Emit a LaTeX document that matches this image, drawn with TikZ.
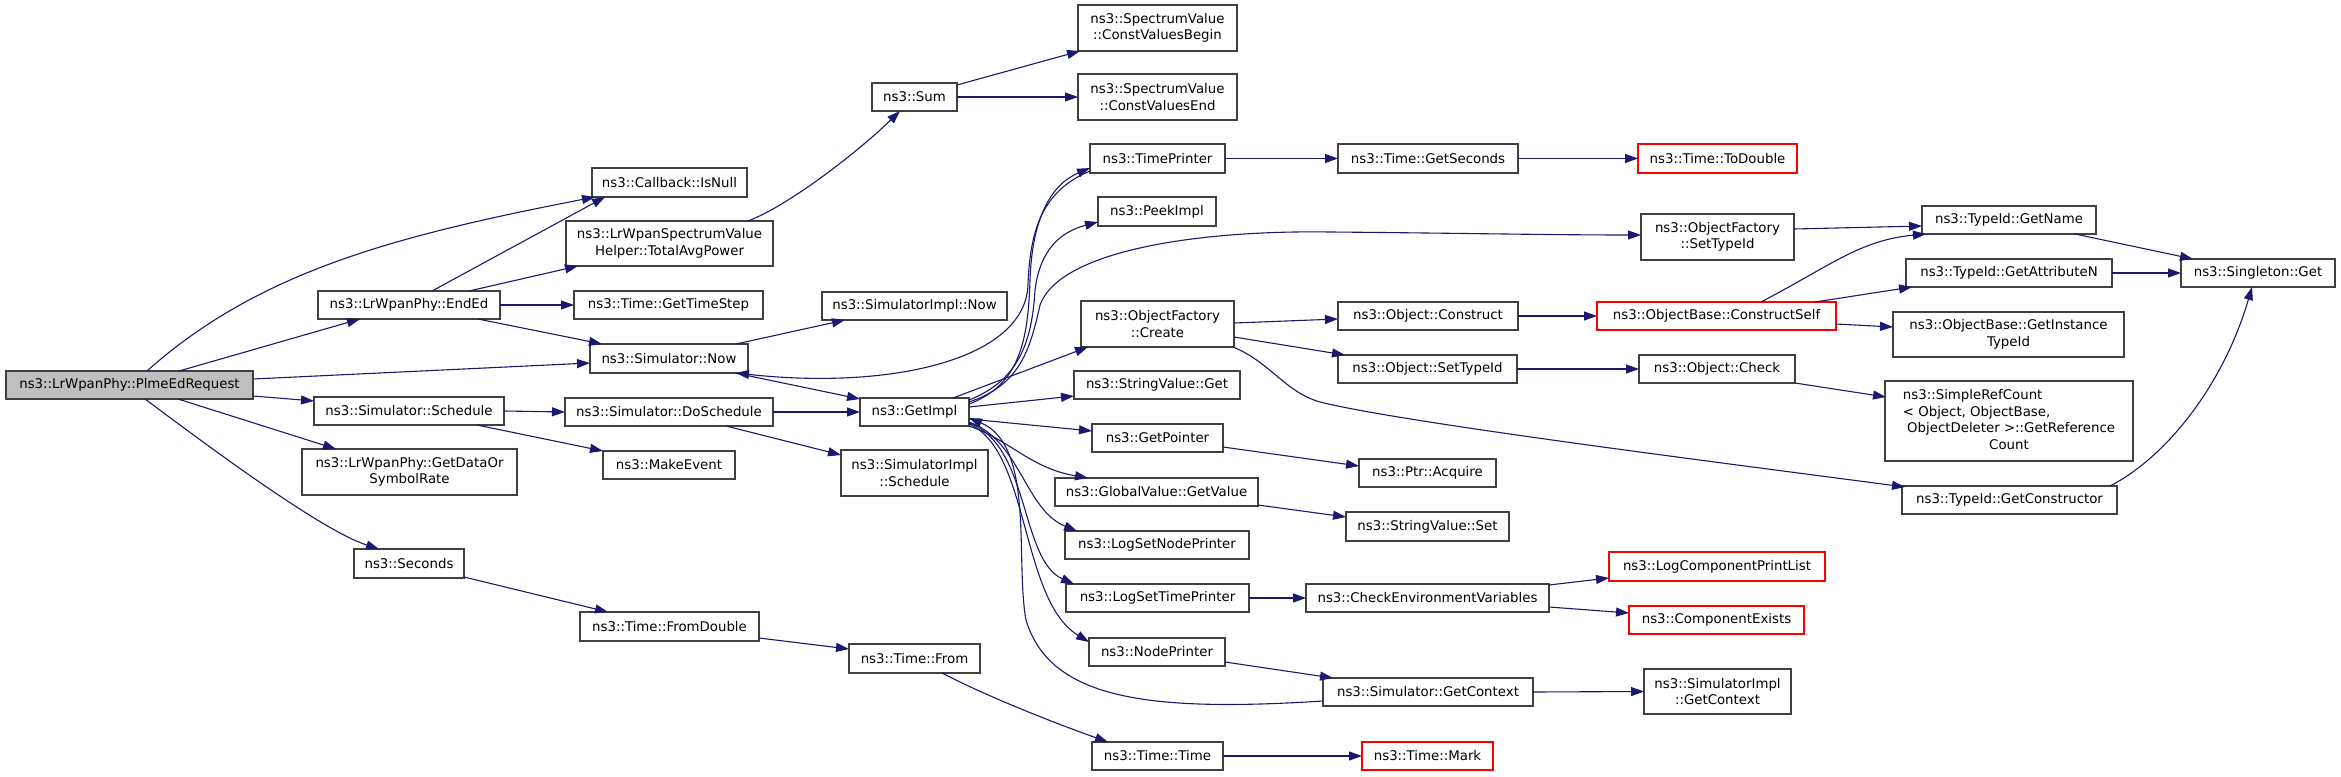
\documentclass[tikz,border=0pt]{standalone}
\usepackage{fontspec}
\usetikzlibrary{arrows.meta,calc}
\newfontfamily\dxfam{DejaVu Sans}
\newcommand{\dxfont}{\dxfam\fontsize{13.33}{16.5}\selectfont}
\definecolor{edgec}{HTML}{191970}
\definecolor{boxc}{HTML}{404040}
\definecolor{rootc}{HTML}{BFBFBF}
\definecolor{redc}{HTML}{FF0000}
\begin{document}
\begin{tikzpicture}[x=1pt,y=-1pt,
  box/.style={draw=boxc, line width=1.2pt, fill=white, inner sep=0pt, outer sep=0pt, anchor=north west, align=center, font=\dxfont},
  redbox/.style={box, draw=redc},
  rootbox/.style={box, fill=rootc},
  call/.style={draw=edgec, line width=1.1pt, -{Triangle[length=13pt,width=9pt]}}]
\fill[white] (0,0) rectangle (2341,776);
\useasboundingbox (0,0) rectangle (2341,776);

% nodes
\node[rootbox, minimum width=247pt, minimum height=28pt] (plme) at (6,371) {ns3::LrWpanPhy::PlmeEdRequest};
\node[box, minimum width=182pt, minimum height=28pt] (ended) at (318,291) {ns3::LrWpanPhy::EndEd};
\node[box, minimum width=155pt, minimum height=29pt] (isnull) at (592,168) {ns3::Callback::IsNull};
\node[box, minimum width=207pt, minimum height=45pt] (tavg) at (566,221) {ns3::LrWpanSpectrumValue\\Helper::TotalAvgPower};
\node[box, minimum width=85pt, minimum height=28pt] (sum) at (872,83) {ns3::Sum};
\node[box, minimum width=159pt, minimum height=46pt] (cvb) at (1078,5) {ns3::SpectrumValue\\::ConstValuesBegin};
\node[box, minimum width=159pt, minimum height=46pt] (cve) at (1078,74) {ns3::SpectrumValue\\::ConstValuesEnd};
\node[box, minimum width=189pt, minimum height=28pt] (gts) at (574,291) {ns3::Time::GetTimeStep};
\node[box, minimum width=158pt, minimum height=29pt] (snow) at (590,344) {ns3::Simulator::Now};
\node[box, minimum width=185pt, minimum height=28pt] (sinow) at (822,292) {ns3::SimulatorImpl::Now};
\node[box, minimum width=190pt, minimum height=28pt] (ssched) at (314,397) {ns3::Simulator::Schedule};
\node[box, minimum width=208pt, minimum height=28pt] (dosched) at (565,398) {ns3::Simulator::DoSchedule};
\node[box, minimum width=109pt, minimum height=28pt] (getimpl) at (860,398) {ns3::GetImpl};
\node[box, minimum width=132pt, minimum height=28pt] (makeev) at (603,451) {ns3::MakeEvent};
\node[box, minimum width=147pt, minimum height=46pt] (sisched) at (841,450) {ns3::SimulatorImpl\\::Schedule};
\node[box, minimum width=215pt, minimum height=46pt] (gdsr) at (302,449) {ns3::LrWpanPhy::GetDataOr\\SymbolRate};
\node[box, minimum width=110pt, minimum height=29pt] (seconds) at (354,549) {ns3::Seconds};
\node[box, minimum width=179pt, minimum height=29pt] (fromdbl) at (580,612) {ns3::Time::FromDouble};
\node[box, minimum width=131pt, minimum height=29pt] (from) at (849,644) {ns3::Time::From};
\node[box, minimum width=131pt, minimum height=28pt] (ttime) at (1092,742) {ns3::Time::Time};
\node[redbox, minimum width=131pt, minimum height=28pt] (mark) at (1362,742) {ns3::Time::Mark};
\node[box, minimum width=135pt, minimum height=29pt] (timeprinter) at (1090,144) {ns3::TimePrinter};
\node[box, minimum width=180pt, minimum height=29pt] (getsec) at (1338,144) {ns3::Time::GetSeconds};
\node[redbox, minimum width=159pt, minimum height=29pt] (todouble) at (1638,144) {ns3::Time::ToDouble};
\node[box, minimum width=118pt, minimum height=29pt] (peek) at (1098,197) {ns3::PeekImpl};
\node[box, minimum width=153pt, minimum height=46pt] (ofsettid) at (1641,214) {ns3::ObjectFactory\\::SetTypeId};
\node[box, minimum width=153pt, minimum height=46pt] (ofcreate) at (1081,301) {ns3::ObjectFactory\\::Create};
\node[box, minimum width=180pt, minimum height=28pt] (oconstruct) at (1338,302) {ns3::Object::Construct};
\node[box, minimum width=179pt, minimum height=28pt] (osettid) at (1338,355) {ns3::Object::SetTypeId};
\node[redbox, minimum width=239pt, minimum height=28pt] (cself) at (1597,302) {ns3::ObjectBase::ConstructSelf};
\node[box, minimum width=156pt, minimum height=28pt] (ocheck) at (1639,355) {ns3::Object::Check};
\node[box, minimum width=174pt, minimum height=28pt] (getname) at (1922,206) {ns3::TypeId::GetName};
\node[box, minimum width=206pt, minimum height=28pt] (getattr) at (1906,259) {ns3::TypeId::GetAttributeN};
\node[box, minimum width=154pt, minimum height=28pt] (singleton) at (2181,259) {ns3::Singleton::Get};
\node[box, minimum width=231pt, minimum height=45pt] (getinst) at (1893,312) {ns3::ObjectBase::GetInstance\\TypeId};
\node[box, minimum width=248pt, minimum height=80pt] (simpleref) at (1885,381) {\begin{tabular}{@{}l@{}}ns3::SimpleRefCount\\
< Object, ObjectBase,\\
\ ObjectDeleter >::GetReference\\
\multicolumn{1}{@{}c@{}}{Count}\end{tabular}};
\node[box, minimum width=215pt, minimum height=28pt] (getctor) at (1902,486) {ns3::TypeId::GetConstructor};
\node[box, minimum width=166pt, minimum height=28pt] (svget) at (1074,371) {ns3::StringValue::Get};
\node[box, minimum width=131pt, minimum height=28pt] (getptr) at (1092,424) {ns3::GetPointer};
\node[box, minimum width=137pt, minimum height=28pt] (acquire) at (1359,459) {ns3::Ptr::Acquire};
\node[box, minimum width=203pt, minimum height=28pt] (gvget) at (1055,478) {ns3::GlobalValue::GetValue};
\node[box, minimum width=163pt, minimum height=29pt] (svset) at (1346,512) {ns3::StringValue::Set};
\node[box, minimum width=184pt, minimum height=28pt] (lsnp) at (1065,531) {ns3::LogSetNodePrinter};
\node[box, minimum width=183pt, minimum height=28pt] (lstp) at (1066,584) {ns3::LogSetTimePrinter};
\node[box, minimum width=243pt, minimum height=28pt] (cenv) at (1306,584) {ns3::CheckEnvironmentVariables};
\node[redbox, minimum width=216pt, minimum height=29pt] (lcpl) at (1609,552) {ns3::LogComponentPrintList};
\node[redbox, minimum width=175pt, minimum height=28pt] (cexists) at (1629,606) {ns3::ComponentExists};
\node[box, minimum width=136pt, minimum height=28pt] (nodeprinter) at (1089,638) {ns3::NodePrinter};
\node[box, minimum width=210pt, minimum height=28pt] (sgctx) at (1323,678) {ns3::Simulator::GetContext};
\node[box, minimum width=147pt, minimum height=45pt] (sigctx) at (1644,669) {ns3::SimulatorImpl\\::GetContext};

% edges
\draw[call] ($(plme.north west)+(141,0)$) .. controls (260,270) and (400,235) .. ($(isnull.north west)+(3,29)$);
\draw[call] ($(plme.north west)+(173,0)$) -- ($(ended.north west)+(42,28)$);
\draw[call] ($(plme.north west)+(247,8)$) -- ($(snow.north west)+(0,19)$);
\draw[call] ($(plme.north west)+(247,25)$) -- ($(ssched.north west)+(0,4)$);
\draw[call] ($(plme.north west)+(172,28)$) -- ($(gdsr.north west)+(34,0)$);
\draw[call] ($(plme.north west)+(139,28)$) .. controls (200,440) and (320,530) .. ($(seconds.north west)+(25,0)$);
\draw[call] ($(ended.north west)+(114,0)$) -- ($(isnull.north west)+(13,29)$);
\draw[call] ($(ended.north west)+(151,0)$) -- ($(tavg.north west)+(12,45)$);
\draw[call] (ended.east) -- (gts.west);
\draw[call] ($(ended.north west)+(160,28)$) -- ($(snow.north west)+(12,0)$);
\draw[call] ($(tavg.north west)+(182,0)$) .. controls (790,205) and (860,150) .. ($(sum.north west)+(28,28)$);
\draw[call] ($(sum.north west)+(85,2)$) -- ($(cvb.north west)+(2,46)$);
\draw[call] (sum.east) -- (cve.west);
\draw[call] ($(snow.north west)+(146,0)$) -- ($(sinow.north west)+(23,28)$);
\draw[call] ($(snow.north west)+(145,29)$) -- ($(getimpl.north west)+(0,1)$);
\draw[call] (ssched.east) -- (dosched.west);
\draw[call] ($(ssched.north west)+(163,28)$) -- (makeev.north west);
\draw[call] (dosched.east) -- (getimpl.west);
\draw[call] ($(dosched.north west)+(161,28)$) -- ($(sisched.north west)+(0,5)$);
\draw[call] ($(seconds.north west)+(110,28)$) -- ($(fromdbl.north west)+(28,0)$);
\draw[call] ($(fromdbl.north west)+(179,26)$) -- ($(from.north west)+(0,5)$);
\draw[call] ($(from.north west)+(93,29)$) .. controls (990,698) and (1060,725) .. ($(ttime.north west)+(16,0)$);
\draw[call] (ttime.east) -- (mark.west);
% GetImpl fan
\draw[call] ($(getimpl.north west)+(109,6)$) .. controls (1020,385) and (1028,340) .. (1030,280) .. controls (1032,220) and (1050,185) .. ($(timeprinter.north west)+(0,24)$);
\draw[call] ($(timeprinter.north west)+(0,27)$) .. controls (1045,190) and (1030,225) .. (1028,285) .. controls (1025,360) and (890,390) .. ($(snow.north west)+(146,29)$);
\draw[call] ($(getimpl.north west)+(109,2)$) .. controls (1020,380) and (1032,340) .. (1035,290) .. controls (1040,250) and (1060,232) .. ($(peek.north west)+(0,25)$);
\draw[call] ($(getimpl.north west)+(109,4)$) .. controls (1020,385) and (1030,350) .. (1040,305) .. controls (1060,250) and (1200,230) .. (1330,232) .. controls (1450,233) and (1550,235) .. ($(ofsettid.north west)+(0,21)$);
\draw[call] ($(getimpl.north west)+(93,0)$) -- ($(ofcreate.north west)+(7,46)$);
\draw[call] ($(getimpl.north west)+(109,9)$) -- ($(svget.north west)+(0,25)$);
\draw[call] ($(getimpl.north west)+(109,21)$) -- ($(getptr.north west)+(0,7)$);
\draw[call] ($(getimpl.north west)+(109,28)$) .. controls (1010,440) and (1030,468) .. ($(gvget.north west)+(33,0)$);
\draw[call] ($(getimpl.north west)+(109,24)$) .. controls (1020,440) and (1025,510) .. ($(lsnp.north west)+(12,0)$);
\draw[call] ($(getimpl.north west)+(109,25)$) .. controls (1030,445) and (1020,560) .. ($(lstp.north west)+(8,0)$);
\draw[call] ($(getimpl.north west)+(109,26)$) .. controls (1030,450) and (1020,600) .. ($(nodeprinter.north west)+(0,4)$);
\draw[call] ($(sgctx.north west)+(0,23)$) .. controls (1150,712) and (1050,700) .. (1026,620) .. controls (1015,560) and (1035,445) .. ($(getimpl.north west)+(109,20)$);
% right part
\draw[call] ($(ofsettid.north west)+(153,15)$) -- ($(getname.north west)+(0,20)$);
\draw[call] ($(ofcreate.north west)+(153,22)$) -- ($(oconstruct.north west)+(0,17)$);
\draw[call] ($(ofcreate.north west)+(153,36)$) -- ($(osettid.north west)+(7,0)$);
\draw[call] ($(ofcreate.north west)+(152,46)$) .. controls (1270,362) and (1285,392) .. (1320,402) .. controls (1400,422) and (1700,460) .. ($(getctor.north west)+(3,1)$);
\draw[call] (oconstruct.east) -- (cself.west);
\draw[call] (osettid.east) -- (ocheck.west);
\draw[call] ($(ocheck.north west)+(156,28)$) -- ($(simpleref.north west)+(1,16)$);
\draw[call] ($(cself.north west)+(164,0)$) .. controls (1830,266) and (1860,240) .. ($(getname.north west)+(4,28)$);
\draw[call] ($(cself.north west)+(218,0)$) -- ($(getattr.north west)+(6,28)$);
\draw[call] ($(cself.north west)+(239,22)$) -- ($(getinst.north west)+(0,15)$);
\draw[call] ($(getname.north west)+(153,28)$) -- ($(singleton.north west)+(12,0)$);
\draw[call] (getattr.east) -- (singleton.west);
\draw[call] ($(getctor.north west)+(208,0)$) .. controls (2170,455) and (2225,380) .. ($(singleton.north west)+(71,28)$);
\draw[call] (timeprinter.east) -- (getsec.west);
\draw[call] (getsec.east) -- (todouble.west);
\draw[call] ($(getptr.north west)+(131,23)$) -- ($(acquire.north west)+(0,7)$);
\draw[call] ($(gvget.north west)+(203,27)$) -- ($(svset.north west)+(0,5)$);
\draw[call] (lstp.east) -- (cenv.west);
\draw[call] ($(cenv.north west)+(243,1)$) -- ($(lcpl.north west)+(0,26)$);
\draw[call] ($(cenv.north west)+(243,23)$) -- ($(cexists.north west)+(0,7)$);
\draw[call] ($(nodeprinter.north west)+(136,24)$) -- ($(sgctx.north west)+(10,0)$);
\draw[call] (sgctx.east) -- (sigctx.west);
\end{tikzpicture}
\end{document}
